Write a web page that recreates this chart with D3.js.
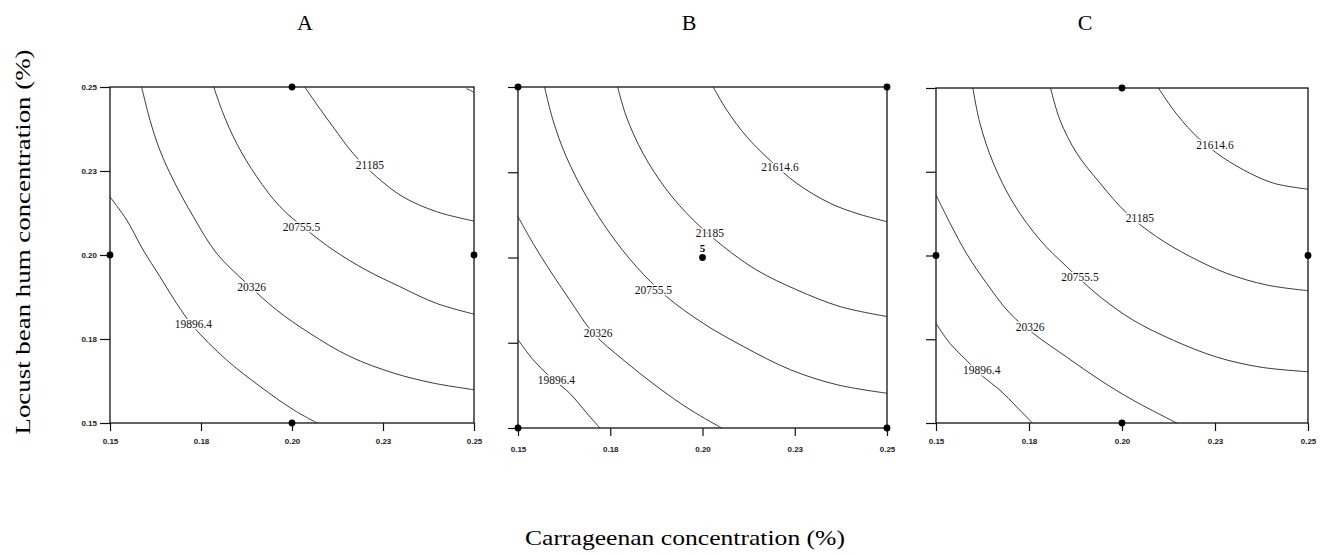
<!DOCTYPE html>
<html>
<head>
<meta charset="utf-8">
<script src="https://cdn.jsdelivr.net/npm/d3@7"></script>
<style>
  body { margin: 0; background: #fff; }
  svg { display: block; font-family: "Liberation Serif", "Times New Roman", serif; }
  .tick text { font-size: 8px; font-weight: bold; fill: #222; }
  .tick line { stroke: #111; stroke-width: 1.2; }
  .contour { fill: none; stroke: #222; stroke-width: 0.9; }
  .clabel { font-size: 11.5px; fill: #111; stroke: #fff; stroke-width: 3px; paint-order: stroke; stroke-linejoin: round; }
</style>
</head>
<body>
<svg id="chart" width="1327" height="555"></svg>
<script>
// panel titles and axis ticks
const panelNames = ["A", "B", "C"];
const tickValues = [0.15, 0.175, 0.20, 0.225, 0.25];
const tickLabels = ["0.15", "0.18", "0.20", "0.23", "0.25"];
const levelLabels = ["19896.4", "20326", "20755.5", "21185", "21614.6"];

// contour lines, [carrageenan, locust bean gum], one per level
const contoursA = [
  [[0.15,0.2173],[0.1546,0.2104],[0.1591,0.2015],[0.1637,0.1936],[0.1683,0.1856],[0.1729,0.1787],[0.1820,0.1688],[0.1912,0.1609],[0.2003,0.1540],[0.2069,0.15]],
  [[0.1587,0.25],[0.1610,0.2401],[0.1637,0.2312],[0.1674,0.2223],[0.1729,0.2114],[0.1793,0.2005],[0.1875,0.1916],[0.1957,0.1837],[0.2049,0.1767],[0.2159,0.1698],[0.2278,0.1649],[0.2387,0.1619],[0.25,0.1599]],
  [[0.1785,0.25],[0.1811,0.2421],[0.1848,0.2332],[0.1903,0.2233],[0.1967,0.2144],[0.2040,0.2075],[0.2113,0.2015],[0.2204,0.1955],[0.2296,0.1906],[0.2397,0.1856],[0.25,0.1824]],
  [[0.2035,0.25],[0.2067,0.2450],[0.2113,0.2381],[0.2168,0.2302],[0.2232,0.2233],[0.2305,0.2173],[0.2397,0.2129],[0.25,0.2101]],
  [[0.2479,0.2495],[0.2490,0.2490],[0.2498,0.2485]]
];
const contoursB = [
  [[0.15,0.1759],[0.1541,0.1700],[0.1586,0.1651],[0.1640,0.1602],[0.1686,0.1544],[0.1722,0.15]],
  [[0.15,0.2120],[0.1541,0.2041],[0.1586,0.1963],[0.1640,0.1876],[0.1704,0.1778],[0.1785,0.1700],[0.1876,0.1622],[0.1966,0.1554],[0.2052,0.15]],
  [[0.1572,0.25],[0.1595,0.2402],[0.1631,0.2295],[0.1686,0.2178],[0.1749,0.2071],[0.1821,0.1973],[0.1903,0.1885],[0.2002,0.1807],[0.2111,0.1739],[0.2238,0.1671],[0.2364,0.1627],[0.25,0.1602]],
  [[0.1770,0.25],[0.1794,0.2412],[0.1839,0.2305],[0.1903,0.2198],[0.1975,0.2110],[0.2057,0.2032],[0.2147,0.1963],[0.2256,0.1905],[0.2373,0.1856],[0.25,0.1827]],
  [[0.2029,0.25],[0.2066,0.2432],[0.2120,0.2354],[0.2183,0.2285],[0.2256,0.2217],[0.2346,0.2159],[0.2419,0.2129],[0.25,0.2105]]
];
const contoursC = [
  [[0.15,0.1797],[0.1538,0.1737],[0.1582,0.1687],[0.1627,0.1638],[0.1672,0.1598],[0.1717,0.1548],[0.1759,0.15]],
  [[0.15,0.2181],[0.1538,0.2096],[0.1582,0.2006],[0.1636,0.1917],[0.1699,0.1827],[0.1762,0.1767],[0.1851,0.1697],[0.1941,0.1628],[0.2030,0.1568],[0.2147,0.15]],
  [[0.1599,0.25],[0.1618,0.2395],[0.1654,0.2276],[0.1708,0.2156],[0.1780,0.2046],[0.1851,0.1967],[0.1941,0.1877],[0.2030,0.1807],[0.2138,0.1747],[0.2254,0.1697],[0.2371,0.1667],[0.25,0.1653]],
  [[0.1808,0.25],[0.1833,0.2405],[0.1878,0.2306],[0.1941,0.2216],[0.2013,0.2126],[0.2093,0.2056],[0.2183,0.1997],[0.2281,0.1947],[0.2389,0.1912],[0.25,0.1895]],
  [[0.2098,0.25],[0.2138,0.2435],[0.2192,0.2365],[0.2254,0.2306],[0.2326,0.2256],[0.2407,0.2216],[0.25,0.2198]]
];

// where each level's label sits (null = no label)
const labelsA = [[0.1729,0.1795],[0.1889,0.1906],[0.2026,0.2084],[0.2214,0.2267],null];
const labelsB = [[0.1604,0.1641],[0.1717,0.1778],[0.1867,0.1905],[0.2020,0.2071],[0.2210,0.2266]];
const labelsC = [[0.1623,0.1658],[0.1753,0.1787],[0.1887,0.1937],[0.2048,0.2111],[0.2250,0.2331]];

// design points
const pointsA = [[0.20,0.25],[0.15,0.20],[0.25,0.20],[0.20,0.15]];
const pointsB = [[0.15,0.25],[0.25,0.25],[0.15,0.15],[0.25,0.15],[0.20,0.20]];
const pointsC = [[0.20,0.25],[0.15,0.20],[0.25,0.20],[0.20,0.15]];
const centerLabelB = "5";

const svg = d3.select("#chart");

const frames = [
  { left: 110, right: 474, top: 87, bottom: 423, titleX: 305, yLabels: true,  contours: contoursA, labels: labelsA, points: pointsA },
  { left: 518, right: 887, top: 87, bottom: 428, titleX: 689, yLabels: false, contours: contoursB, labels: labelsB, points: pointsB },
  { left: 936, right: 1308, top: 88, bottom: 423, titleX: 1085, yLabels: false, contours: contoursC, labels: labelsC, points: pointsC }
];

frames.forEach((f, i) => {
  const x = d3.scaleLinear().domain([0.15, 0.25]).range([f.left, f.right]);
  const y = d3.scaleLinear().domain([0.15, 0.25]).range([f.bottom, f.top]);
  const g = svg.append("g");

  // title
  g.append("text")
    .attr("x", f.titleX)
    .attr("y", 30)
    .attr("text-anchor", "middle")
    .style("font-size", "22px")
    .text(panelNames[i]);

  // contour lines
  const line = d3.line()
    .x(d => x(d[0]))
    .y(d => y(d[1]))
    .curve(d3.curveCatmullRom);

  g.selectAll(".contour")
    .data(f.contours)
    .enter()
    .append("path")
    .attr("class", "contour")
    .attr("d", line);

  // frame
  g.append("rect")
    .attr("x", f.left)
    .attr("y", f.top)
    .attr("width", f.right - f.left)
    .attr("height", f.bottom - f.top)
    .attr("fill", "none")
    .attr("stroke", "#111")
    .attr("stroke-width", 1.3);

  // axes
  const xAxis = d3.axisBottom(x)
    .tickValues(tickValues)
    .tickFormat((d, k) => tickLabels[k])
    .tickSize(8)
    .tickSizeOuter(0)
    .tickPadding(i === 1 ? 10 : 7);
  g.append("g")
    .attr("transform", `translate(0,${f.bottom})`)
    .call(xAxis)
    .call(a => a.select(".domain").remove());

  const yAxis = d3.axisLeft(y)
    .tickValues(tickValues)
    .tickFormat((d, k) => f.yLabels ? tickLabels[k] : "")
    .tickSize(10)
    .tickSizeOuter(0)
    .tickPadding(3);
  g.append("g")
    .attr("transform", `translate(${f.left},0)`)
    .call(yAxis)
    .call(a => a.select(".domain").remove());

  // contour labels
  f.labels.forEach((p, k) => {
    if (!p) return;
    g.append("text")
      .attr("class", "clabel")
      .attr("x", x(p[0]))
      .attr("y", y(p[1]))
      .attr("dy", "0.35em")
      .attr("text-anchor", "middle")
      .text(levelLabels[k]);
  });

  // design points
  g.selectAll(".pt")
    .data(f.points)
    .enter()
    .append("circle")
    .attr("class", "pt")
    .attr("cx", d => x(d[0]))
    .attr("cy", d => y(d[1]))
    .attr("r", 3.4)
    .attr("fill", "#000");

  if (i === 1) {
    g.append("text")
      .attr("x", x(0.20))
      .attr("y", y(0.20) - 6)
      .attr("text-anchor", "middle")
      .style("font-size", "11px")
      .style("font-weight", "bold")
      .text(centerLabelB);
  }
});

// shared axis titles
svg.append("text")
  .attr("x", 685)
  .attr("y", 545)
  .attr("text-anchor", "middle")
  .attr("textLength", 320)
  .attr("lengthAdjust", "spacingAndGlyphs")
  .style("font-size", "22px")
  .text("Carrageenan concentration (%)");

svg.append("text")
  .attr("transform", "translate(30,242) rotate(-90)")
  .attr("text-anchor", "middle")
  .attr("textLength", 385)
  .attr("lengthAdjust", "spacingAndGlyphs")
  .style("font-size", "22px")
  .text("Locust bean hum concentration (%)");
</script>
</body>
</html>
